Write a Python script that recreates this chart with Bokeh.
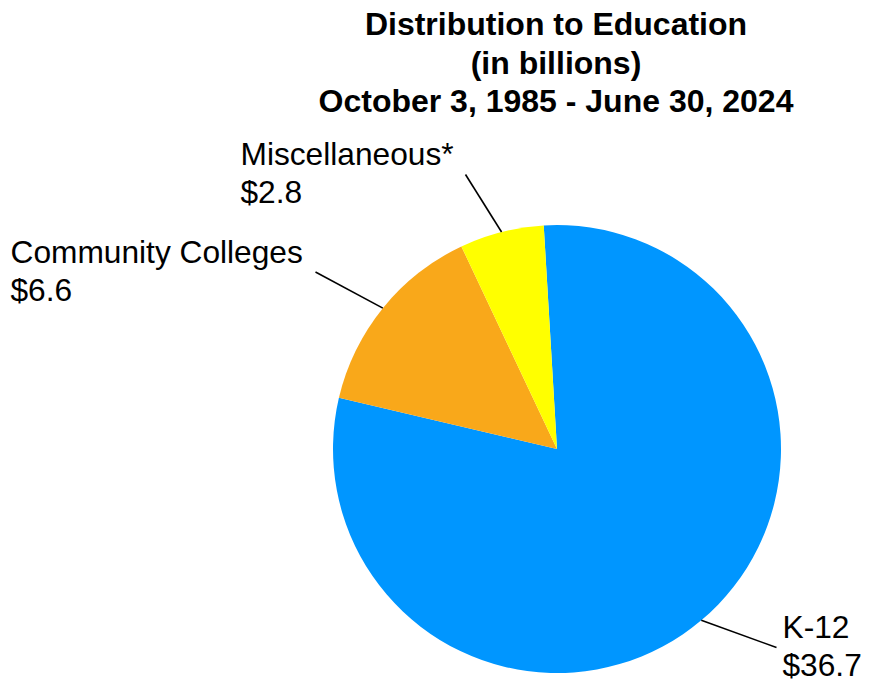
import math
from bokeh.plotting import figure
from bokeh.models import Range1d, ColumnDataSource
from bokeh.core.properties import value
from bokeh.embed import file_html
from bokeh.resources import INLINE

# ---- data ----
categories = ["K-12", "Community Colleges", "Miscellaneous*"]
values = [36.7, 6.6, 2.8]
colors = ["#0096FF", "#F9A81A", "#FFFF00"]
title_lines = ["Distribution to Education", "(in billions)", "October 3, 1985 - June 30, 2024"]

# ---- layout (pixels from the top-left of the figure) ----
W, H = 862, 682
def X(rx):
    return rx
def Y(ry):
    return H - ry

cx, cy, R = X(556.5), Y(448.5), 224
start_deg = 93.4  # slices run clockwise from here

TXT_SHIFT = 11.5  # rendered baseline sits this much below the requested y
# label anchors (left edge, first visible baseline) and leader outer ends
label_pos = [(782, 638), (10, 262.5), (240, 165)]
leader_end = [(776, 647), (315, 271.5), (465, 174)]
line_gap = 38
FONT = value("Liberation Sans")
FS = "31.7px"
TFS = "32px"

p = figure(width=W, height=H, output_backend="svg", toolbar_location=None,
           x_range=Range1d(0, W), y_range=Range1d(0, H), min_border=0)
p.axis.visible = False
p.grid.visible = False
p.outline_line_color = None
p.background_fill_color = "white"
p.border_fill_color = "white"

total = sum(values)
a = start_deg
starts, ends, mids = [], [], []
for v in values:
    sweep = 360.0 * v / total
    a1 = a - sweep
    starts.append(math.radians(a1))
    ends.append(math.radians(a))
    mids.append(math.radians((a + a1) / 2))
    a = a1

src = ColumnDataSource(dict(x=[cx] * len(values), y=[cy] * len(values),
                            s=starts, e=ends, c=colors, name=categories))
p.wedge(x="x", y="y", radius=R, start_angle="s", end_angle="e",
        fill_color="c", line_color=None, source=src)

# leader lines from slice midpoints on rim to labels
for m, (ex, ey) in zip(mids, leader_end):
    x0 = cx + R * math.cos(m)
    y0 = cy + R * math.sin(m)
    p.line([x0, X(ex)], [y0, Y(ey)], line_color="black", line_width=1.6)

# labels
for cat, v, (lx, ly) in zip(categories, values, label_pos):
    b = ly - TXT_SHIFT
    p.text(x=[X(lx), X(lx)], y=[Y(b), Y(b + line_gap)], text=[cat, f"${v}"],
           text_font=FONT, text_font_size=FS, text_color="black",
           text_align="left", text_baseline="alphabetic")

# title
title_base = [35, 73.5, 111.5]
p.text(x=[X(555.5)] * 3, y=[Y(b - TXT_SHIFT) for b in title_base], text=title_lines,
       text_font=FONT, text_font_size=TFS, text_font_style="bold",
       text_color="black", text_align="center", text_baseline="alphabetic")

open("out.html", "w").write(file_html(p, INLINE))
